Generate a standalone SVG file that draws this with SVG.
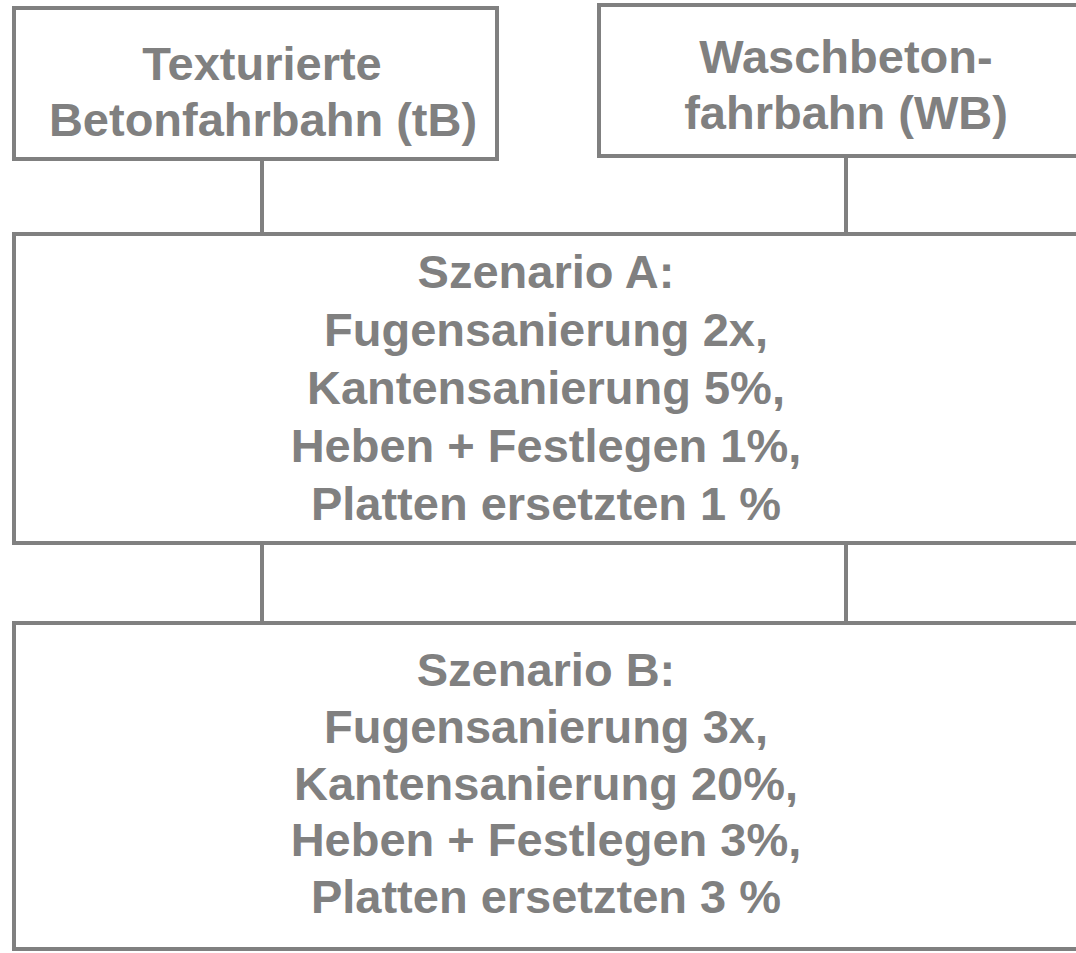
<svg xmlns="http://www.w3.org/2000/svg" width="1076" height="953" viewBox="0 0 1076 953">
  <style>
    .box { fill: #ffffff; stroke: #808080; stroke-width: 4; }
    .link { stroke: #808080; stroke-width: 4; fill: none; }
    .label { font-family: "Liberation Sans", Arial, sans-serif; font-weight: bold; font-size: 47px; fill: #808080; text-anchor: middle; }
  </style>
  <rect x="0" y="0" width="1076" height="953" fill="#ffffff"/>

  <!-- connectors -->
  <g id="connectors">
    <line class="link" x1="262" y1="159" x2="262" y2="234"/>
    <line class="link" x1="846" y1="156" x2="846" y2="234"/>
    <line class="link" x1="262" y1="543" x2="262" y2="623"/>
    <line class="link" x1="846" y1="543" x2="846" y2="623"/>
  </g>

  <!-- surface type: textured concrete -->
  <g id="node-tb">
    <rect class="box" x="14" y="8" width="483" height="151"/>
    <text class="label" x="262" y="80">Texturierte</text>
    <text class="label" x="263" y="136">Betonfahrbahn (tB)</text>
  </g>

  <!-- surface type: exposed aggregate concrete -->
  <g id="node-wb">
    <rect class="box" x="599" y="5" width="500" height="151"/>
    <text class="label" x="846" y="73">Waschbeton-</text>
    <text class="label" x="846" y="129">fahrbahn (WB)</text>
  </g>

  <!-- maintenance scenario A -->
  <g id="node-scenario-a">
    <rect class="box" x="14" y="234" width="1090" height="309"/>
    <text class="label" x="546" y="288">Szenario A:</text>
    <text class="label" x="546" y="346">Fugensanierung 2x,</text>
    <text class="label" x="546" y="404">Kantensanierung 5%,</text>
    <text class="label" x="546" y="462">Heben + Festlegen 1%,</text>
    <text class="label" x="546" y="520">Platten ersetzten 1 %</text>
  </g>

  <!-- maintenance scenario B -->
  <g id="node-scenario-b">
    <rect class="box" x="14" y="623" width="1090" height="326"/>
    <text class="label" x="546" y="686">Szenario B:</text>
    <text class="label" x="546" y="743">Fugensanierung 3x,</text>
    <text class="label" x="546" y="800">Kantensanierung 20%,</text>
    <text class="label" x="546" y="856">Heben + Festlegen 3%,</text>
    <text class="label" x="546" y="913">Platten ersetzten 3 %</text>
  </g>
</svg>
